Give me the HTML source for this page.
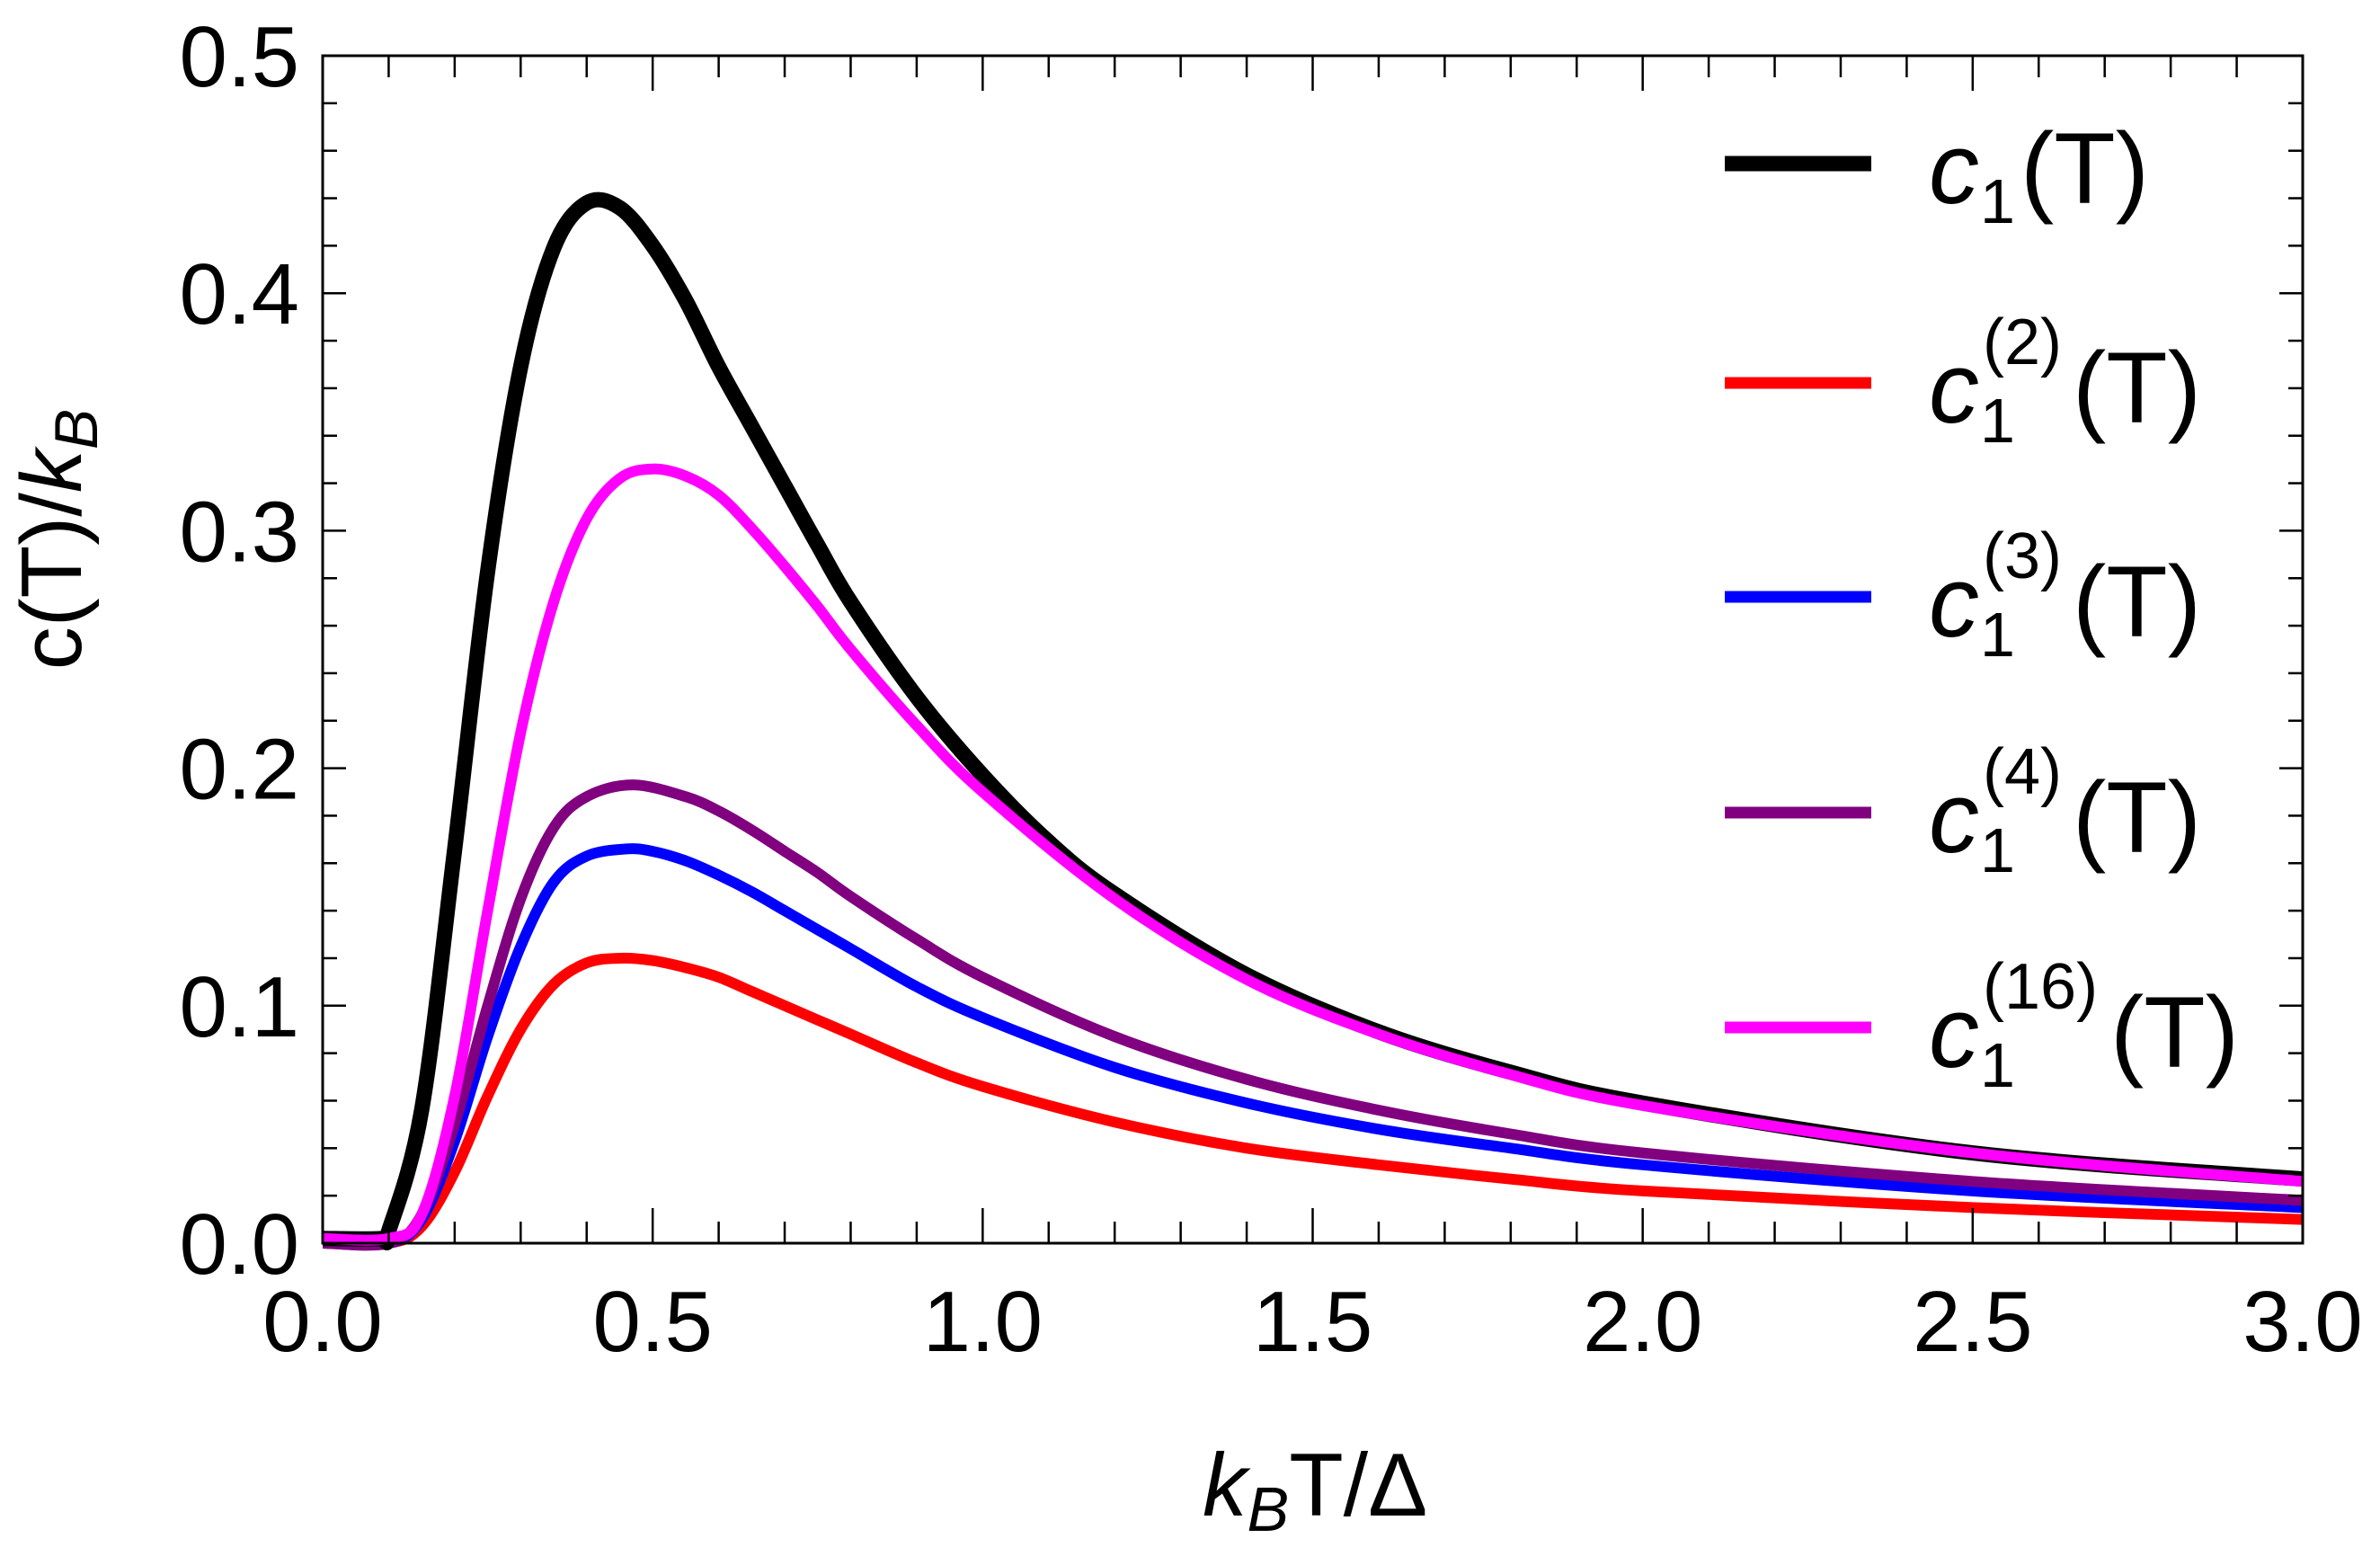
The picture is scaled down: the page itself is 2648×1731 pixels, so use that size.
<!DOCTYPE html>
<html><head><meta charset="utf-8"><style>
html,body{margin:0;padding:0;background:#fff;width:2648px;height:1731px;overflow:hidden}
svg text{font-family:"Liberation Sans",sans-serif;fill:#000}
</style></head><body>
<svg id="chart" width="2648" height="1731" xmlns="http://www.w3.org/2000/svg">
<g id="series"></g>
<g id="axes"></g>
<text transform="translate(90,600) rotate(-90)" text-anchor="middle" font-size="96">c(T)/<tspan font-style="italic">k</tspan><tspan font-style="italic" font-size="68" dy="18">B</tspan></text>
<text x="1338" y="1686" font-size="99"><tspan font-style="italic">k</tspan><tspan font-style="italic" font-size="70" dy="17">B</tspan><tspan dy="-17">T/Δ</tspan></text>
<g id="legend"></g>
</svg>
<script>
const xTicks=[0,0.5,1.0,1.5,2.0,2.5,3.0];
const xTickLabels=["0.0","0.5","1.0","1.5","2.0","2.5","3.0"];
const yTicks=[0,0.1,0.2,0.3,0.4,0.5];
const yTickLabels=["0.0","0.1","0.2","0.3","0.4","0.5"];
const seriesNames=["c1","c1-2","c1-3","c1-4","c1-16"];
const seriesColors=["#000000","#ff0000","#0000ff","#800080","#ff00ff"];
const xBlack=[0,0.09,0.1,0.15,0.2,0.25,0.3,0.35,0.4,0.45,0.5,0.55,0.6,0.65,0.7,0.75,0.8,0.9,1.0,1.1,1.2,1.4,1.6,1.8,2.0,2.5,3.0];
const yBlack=[0.002,0.002,0.005,0.056,0.166,0.283,0.369,0.419,0.438,0.436,0.42,0.397,0.369,0.344,0.319,0.294,0.27,0.23,0.197,0.169,0.147,0.113,0.089,0.072,0.059,0.038,0.027];
const xRed=[0,0.1,0.15,0.2,0.25,0.3,0.35,0.4,0.45,0.5,0.55,0.6,0.65,0.7,0.75,0.8,0.9,1.0,1.2,1.4,1.6,1.8,2.0,2.5,3.0];
const yRed=[0,0,0.007,0.03,0.062,0.09,0.109,0.118,0.12,0.119,0.116,0.112,0.106,0.1,0.094,0.088,0.076,0.066,0.051,0.04,0.033,0.027,0.022,0.015,0.01];
const xBlue=[0,0.1,0.15,0.2,0.25,0.3,0.35,0.4,0.46,0.5,0.55,0.6,0.65,0.7,0.75,0.8,0.9,1.0,1.2,1.4,1.6,1.8,2.0,2.5,3.0];
const yBlue=[0,0,0.01,0.043,0.087,0.125,0.152,0.163,0.166,0.165,0.161,0.155,0.148,0.14,0.132,0.124,0.108,0.095,0.074,0.059,0.048,0.04,0.033,0.022,0.015];
const xPurple=[0,0.1,0.15,0.2,0.25,0.3,0.35,0.4,0.47,0.55,0.6,0.65,0.7,0.75,0.8,0.9,1.0,1.2,1.4,1.6,1.8,2.0,2.5,3.0];
const yPurple=[0,0,0.012,0.05,0.1,0.145,0.175,0.188,0.193,0.188,0.182,0.174,0.165,0.156,0.146,0.128,0.112,0.087,0.069,0.056,0.046,0.038,0.026,0.018];
const xMagenta=[0,0.1,0.15,0.2,0.25,0.3,0.35,0.4,0.45,0.5,0.55,0.6,0.65,0.7,0.75,0.8,0.9,1.0,1.2,1.4,1.6,1.8,2.0,2.5,3.0];
const yMagenta=[0.002,0.002,0.012,0.062,0.14,0.215,0.27,0.305,0.322,0.326,0.323,0.315,0.301,0.285,0.268,0.25,0.218,0.19,0.145,0.111,0.088,0.071,0.058,0.038,0.026];

const L=359,R=2562,T=62,B=1383;
const X0=0,X1=3,Y0=0,Y1=0.5;
function sx(v){return L+(v-X0)/(X1-X0)*(R-L);}
function sy(v){return B-(v-Y0)/(Y1-Y0)*(B-T);}
const NS="http://www.w3.org/2000/svg";
function mk(tag,attrs,parent){const e=document.createElementNS(NS,tag);for(const k in attrs)e.setAttribute(k,attrs[k]);parent.appendChild(e);return e;}
function pathFrom(xs,ys){
  const p=xs.map((x,i)=>[sx(x),sy(ys[i])]);
  let d="M"+p[0][0].toFixed(1)+","+p[0][1].toFixed(1);
  for(let i=0;i<p.length-1;i++){
    const p0=p[Math.max(0,i-1)],p1=p[i],p2=p[i+1],p3=p[Math.min(p.length-1,i+2)];
    const c1=[p1[0]+(p2[0]-p0[0])/6,p1[1]+(p2[1]-p0[1])/6];
    const c2=[p2[0]-(p3[0]-p1[0])/6,p2[1]-(p3[1]-p1[1])/6];
    d+=" C"+c1[0].toFixed(1)+","+c1[1].toFixed(1)+" "+c2[0].toFixed(1)+","+c2[1].toFixed(1)+" "+p2[0].toFixed(1)+","+p2[1].toFixed(1);
  }
  return d;
}
const sg=document.getElementById('series');
const defs=mk('defs',{},sg);
const cp=mk('clipPath',{id:'clip'},defs);
mk('rect',{x:L,y:T-20,width:R-L,height:B-T+30},cp);
const order=[[xRed,yRed,1,12],[xBlue,yBlue,2,12],[xPurple,yPurple,3,12],[xBlack,yBlack,0,17],[xMagenta,yMagenta,4,12]];
order.forEach(o=>{
  const p=mk('path',{d:pathFrom(o[0],o[1]),fill:'none',stroke:seriesColors[o[2]],'stroke-width':o[3],'stroke-linejoin':'round','clip-path':'url(#clip)'},sg);
  
  
});
const ag=document.getElementById('axes');
const frame=mk('rect',{x:L,y:T,width:R-L,height:B-T,fill:'none',stroke:'#000','stroke-width':3},ag);


for(let i=0;i<=30;i++){
  const v=i*0.1,x=sx(v),maj=i%5===0,len=maj?39:24;
  const t1=mk('line',{x1:x,x2:x,y1:B,y2:B-len,stroke:'#000','stroke-width':2.5},ag);
  
  
  mk('line',{x1:x,x2:x,y1:T,y2:T+len,stroke:'#000','stroke-width':2.5},ag);
}
for(let i=0;i<=25;i++){
  const v=i*0.02,y=sy(v),maj=i%5===0,len=maj?26:16;
  const t1=mk('line',{x1:L,x2:L+len,y1:y,y2:y,stroke:'#000','stroke-width':2.5},ag);
  
  
  mk('line',{x1:R,x2:R-len,y1:y,y2:y,stroke:'#000','stroke-width':2.5},ag);
}
xTicks.forEach((v,i)=>{
  const t=mk('text',{x:sx(v),y:1503,'text-anchor':'middle','font-size':96},ag);
  t.textContent=xTickLabels[i];
  
  
});
yTicks.forEach((v,i)=>{
  const t=mk('text',{x:333,y:sy(v)+34,'text-anchor':'end','font-size':96},ag);
  t.textContent=yTickLabels[i];
  
  
});
const lg=document.getElementById('legend');
const rows=[182,426,664,904,1143];
const sups=["","(2)","(3)","(4)","(16)"];
const lw=[17,13,13,13,13];
rows.forEach((y,i)=>{
  const ln=mk('line',{x1:1919,x2:2082,y1:y,y2:y,stroke:seriesColors[i],'stroke-width':lw[i]},lg);
  
  
  const g=mk('g',{},lg);
  
  
  const c=mk('text',{x:2146,y:y+44,'font-size':112,'font-style':'italic'},g);c.textContent='c';
  const s=mk('text',{x:2203,y:y+66,'font-size':70},g);s.textContent='1';
  let px=2248;
  if(sups[i]){
    const sp=mk('text',{x:2206,y:y-21,'font-size':72},g);sp.textContent=sups[i];
    px=sups[i].length>3?2348:2306;
  }
  const tt=mk('text',{x:px,y:y+44,'font-size':112},g);tt.textContent='(T)';
});
</script>
</body></html>
